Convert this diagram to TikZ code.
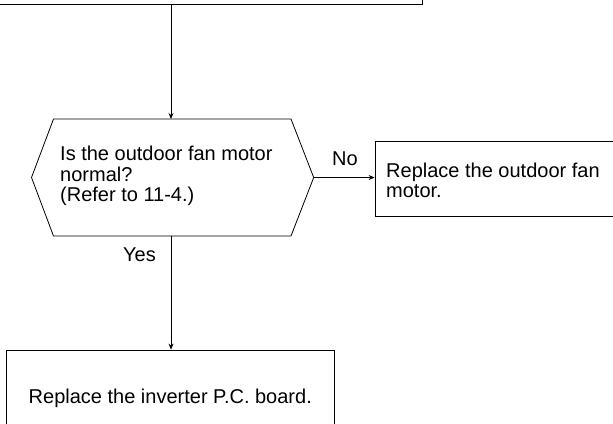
\documentclass[tikz,border=0pt]{standalone}
\usepackage{fontspec}
\setmainfont{Liberation Sans}
\usetikzlibrary{arrows.meta}
\begin{document}
\begin{tikzpicture}[x=1pt,y=-1pt,
  line/.style={draw=black,line width=0.8pt},
  arr/.style={line,-{Stealth[length=6pt,width=5pt]}},
  txt/.style={inner sep=0pt,font=\fontsize{20}{20.5}\selectfont,align=left},
  boxnode/.style={draw=black,line width=0.8pt,inner sep=0pt}]
\useasboundingbox (0,0) rectangle (613,423);
\clip (0,0) rectangle (613,423);
% top box
\node[boxnode,line width=1pt,minimum width=442pt,minimum height=65pt] (top) at (201,-28) {};
% decision hexagon
\coordinate (htop) at (171,119);
\coordinate (hbot) at (171,236);
\coordinate (hright) at (313.7,177.5);
\coordinate (hleft) at (31.5,177.5);
\draw[line] (53.5,119) -- (291,119) -- (hright) -- (291,236) -- (53.5,236) -- (hleft) -- cycle;
\node[txt,anchor=north west] (q) at (60,145.9) {Is the outdoor fan motor\\normal?\\(Refer to 11-4.)};
% right box
\node[boxnode,minimum width=240pt,minimum height=74.5pt] (fan) at (495,179) {};
\node[txt,anchor=north west] (fant) at (386,162.4) {Replace the outdoor fan\\motor.};
% bottom box
\node[boxnode,minimum width=327.5pt,minimum height=100pt] (pcb) at (170.25,400) {};
\node[txt,anchor=base] (pcbt) at (170.3,403) {Replace the inverter P.C. board.};
% connectors
\draw[arr] (top.south -| htop) -- (htop);
\draw[arr] (hright) -- (fan.west |- hright);
\draw[arr] (hbot) -- (pcb.north -| hbot);
\node[txt,anchor=base west] (no) at (332,165) {No};
\node[txt,anchor=base west] (yes) at (123,261.7) {Yes};
\end{tikzpicture}
\end{document}
